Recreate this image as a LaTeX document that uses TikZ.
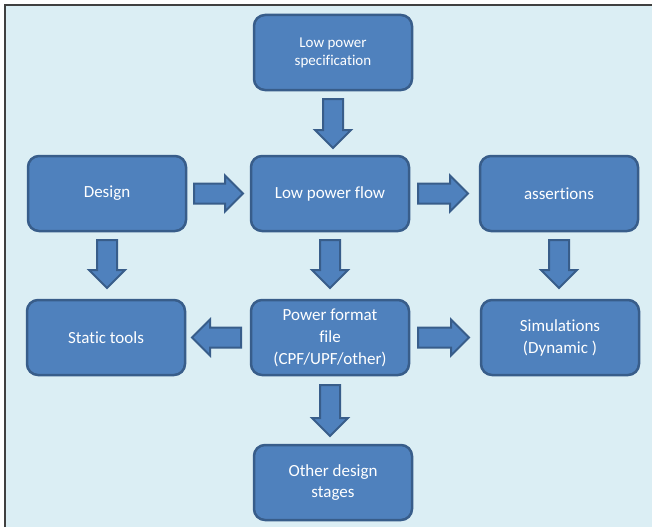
\documentclass[tikz,border=0pt]{standalone}
\usepackage{fontspec}
\setmainfont{Carlito}[Ligatures=CommonOff]
\usetikzlibrary{shapes,arrows,positioning,calc}

\definecolor{boxfill}{HTML}{4F81BD}
\definecolor{boxline}{HTML}{385D8A}
\definecolor{canvas}{HTML}{DBEEF4}

\begin{document}
\begin{tikzpicture}[
    box/.style={rectangle, draw=boxline, fill=boxfill, line width=2.5pt, outer sep=0pt, rounded corners=11pt, minimum width=158pt, minimum height=75pt, align=center, text=white, font=\fontsize{17}{22}\selectfont},
    barrow/.style={single arrow, draw=boxline, fill=boxfill, line width=2pt, anchor=tail, inner xsep=0pt, inner ysep=9pt, single arrow head extend=8pt, single arrow tip angle=90}
]

% Canvas
\path[use as bounding box, fill=white] (0,0) rectangle (652pt,-527pt);
\fill[canvas] (5pt,-5pt) rectangle (652pt,-527pt);
\draw[black!75, line width=1.5pt] (5pt,-527pt) -- (5pt,-5pt) -- (652pt,-5pt);

% Middle column
\node[box] (flow) at (330pt,-193.5pt) {Low power flow};
\node[box, above=66pt of flow, xshift=3pt, font=\fontsize{15}{18}\selectfont] (spec) {Low power\\specification};
\node[box, below=69pt of flow] (pff) {Power format\\file\\(CPF/UPF/other)};
\node[box, below=70pt of pff, xshift=3pt, font=\fontsize{17}{21}\selectfont] (other) {Other design\\stages};

% Side columns
\node[box, left=65pt of flow] (design) {Design};
\node[box, right=71pt of flow] (assert) {assertions};
\node[box, left=66pt of pff] (static) {Static tools};
\node[box, right=72pt of pff] (sim) {Simulations\\(Dynamic )};

% Block arrows
\node[barrow, rotate=-90] (a1) at ($(spec.south)+(0,-8pt)$) {\rule{37pt}{0pt}};
\node[barrow] (a2) at ($(design.east)+(7pt,0)$) {\rule{37pt}{0pt}};
\node[barrow] (a3) at ($(flow.east)+(8pt,0)$) {\rule{38pt}{0pt}};
\node[barrow, rotate=-90] (a4) at ($(design.south)+(0,-8pt)$) {\rule{36pt}{0pt}};
\node[barrow, rotate=-90] (a5) at ($(flow.south)+(0,-8pt)$) {\rule{36pt}{0pt}};
\node[barrow, rotate=-90] (a6) at ($(assert.south)+(0,-8pt)$) {\rule{36pt}{0pt}};
\node[barrow, rotate=180] (a7) at ($(pff.west)+(-9pt,0)$) {\rule{37pt}{0pt}};
\node[barrow] (a8) at ($(pff.east)+(8pt,0)$) {\rule{39pt}{0pt}};
\node[barrow, rotate=-90] (a9) at ($(pff.south)+(0,-9pt)$) {\rule{39pt}{0pt}};

\end{tikzpicture}
\end{document}
